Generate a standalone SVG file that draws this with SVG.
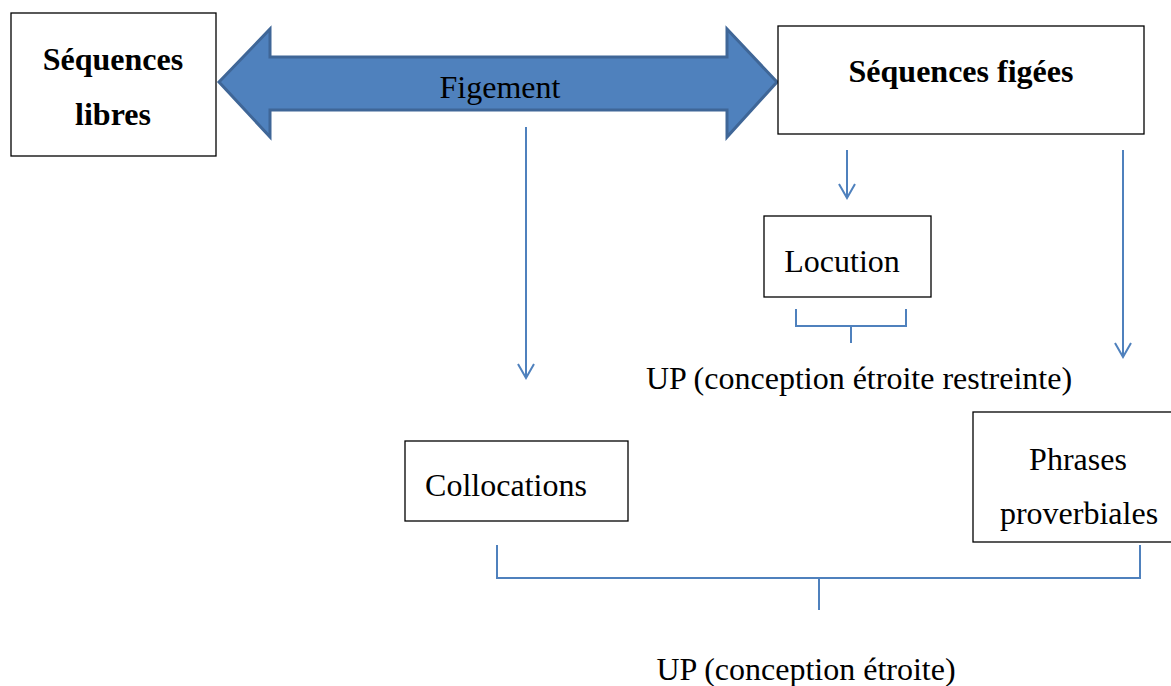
<svg xmlns="http://www.w3.org/2000/svg" width="1171" height="686" viewBox="0 0 1171 686">
<style>
.box{fill:#fff;stroke:#000;stroke-width:1.3}
.t{font-family:"Liberation Serif","Times New Roman",serif;font-size:32px;fill:#000;text-anchor:middle}
.b{font-weight:bold}
.ln{fill:none;stroke:#4F81BD;stroke-width:2}
</style>
<defs>
<marker id="ah" viewBox="0 0 20 20" refX="18" refY="10" markerWidth="20" markerHeight="20" markerUnits="userSpaceOnUse" orient="auto">
<path d="M4,2 L18,10 L4,18" fill="none" stroke="#4F81BD" stroke-width="2"/>
</marker>
</defs>
<rect width="1171" height="686" fill="#fff"/>
<g id="figement">
<polygon points="219,82 270,29 270,57 727,57 727,29 777,82 727,137 727,110 270,110 270,137" fill="#4F81BD" stroke="#3F6697" stroke-width="3" stroke-linejoin="miter"/>
<text class="t" x="500" y="98">Figement</text>
</g>
<g id="sequences-libres">
<rect class="box" x="11" y="13" width="205" height="143"/>
<text class="t b" x="113" y="70">Séquences</text>
<text class="t b" x="113" y="125">libres</text>
</g>
<g id="sequences-figees">
<rect class="box" x="778" y="26" width="366" height="108"/>
<text class="t b" x="961" y="82">Séquences figées</text>
</g>
<g id="locution">
<rect class="box" x="764" y="216" width="167" height="81"/>
<text class="t" x="842" y="272">Locution</text>
</g>
<g id="up-restreinte">
<text class="t" x="859" y="389">UP (conception étroite restreinte)</text>
</g>
<g id="collocations">
<rect class="box" x="405" y="441" width="223" height="80"/>
<text class="t" x="506" y="496">Collocations</text>
</g>
<g id="phrases-proverbiales">
<rect class="box" x="973" y="412" width="210" height="130"/>
<text class="t" x="1078" y="470">Phrases</text>
<text class="t" x="1079" y="524">proverbiales</text>
</g>
<g id="up-etroite">
<text class="t" x="806" y="680">UP (conception étroite)</text>
</g>
<g id="connectors">
<line class="ln" x1="526" y1="127" x2="526" y2="378" marker-end="url(#ah)"/>
<line class="ln" x1="847" y1="150" x2="847" y2="198" marker-end="url(#ah)"/>
<line class="ln" x1="1123" y1="150" x2="1123" y2="357" marker-end="url(#ah)"/>
<path class="ln" d="M796,309 V326 H906 V309 M851,326 V343"/>
<path class="ln" d="M497,545 V578 H1140 V545 M819,578 V610"/>
</g>
</svg>
